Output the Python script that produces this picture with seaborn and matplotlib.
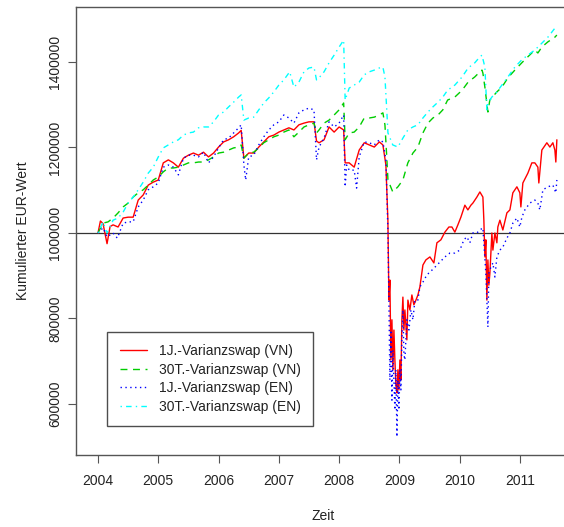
import pandas as pd
import seaborn as sns
import matplotlib.pyplot as plt

# 1J.-Varianzswap (VN)
vn_1j_years = [
    2004.000, 2004.040, 2004.083, 2004.150, 2004.200, 2004.250, 2004.333, 2004.417, 2004.500, 2004.583,
    2004.667, 2004.750, 2004.833, 2004.917, 2005.000, 2005.083, 2005.167, 2005.250, 2005.333, 2005.417,
    2005.500, 2005.583, 2005.667, 2005.750, 2005.833, 2005.917, 2006.000, 2006.083, 2006.167, 2006.250,
    2006.333, 2006.375, 2006.420, 2006.500, 2006.583, 2006.667, 2006.750, 2006.833, 2006.917, 2007.000,
    2007.083, 2007.167, 2007.250, 2007.333, 2007.417, 2007.500, 2007.583, 2007.625, 2007.667, 2007.750,
    2007.833, 2007.917, 2008.000, 2008.075, 2008.100, 2008.167, 2008.250, 2008.333, 2008.417, 2008.500,
    2008.583, 2008.667, 2008.726, 2008.776, 2008.809, 2008.826, 2008.842, 2008.859, 2008.876, 2008.892,
    2008.909, 2008.925, 2008.942, 2008.959, 2008.975, 2008.992, 2009.008, 2009.025, 2009.041, 2009.058,
    2009.075, 2009.091, 2009.124, 2009.141, 2009.174, 2009.207, 2009.240, 2009.274, 2009.307, 2009.340,
    2009.390, 2009.439, 2009.506, 2009.572, 2009.622, 2009.688, 2009.755, 2009.821, 2009.871, 2009.920,
    2009.970, 2010.020, 2010.086, 2010.136, 2010.186, 2010.219, 2010.285, 2010.335, 2010.385, 2010.401,
    2010.418, 2010.434, 2010.451, 2010.468, 2010.484, 2010.501, 2010.534, 2010.551, 2010.584, 2010.617,
    2010.633, 2010.667, 2010.716, 2010.783, 2010.833, 2010.882, 2010.949, 2010.998, 2011.015, 2011.048,
    2011.131, 2011.197, 2011.247, 2011.297, 2011.313, 2011.363, 2011.446, 2011.496, 2011.546, 2011.579,
    2011.595, 2011.612,
]
vn_1j = [
    1000000, 1028000, 1022000, 975000, 1015000, 1019000, 1014000, 1035000, 1037000, 1037000,
    1077000, 1089000, 1112000, 1119000, 1124000, 1164000, 1171000, 1164000, 1154000, 1175000,
    1182000, 1187000, 1182000, 1189000, 1178000, 1187000, 1201000, 1213000, 1218000, 1225000,
    1234000, 1240000, 1175000, 1187000, 1187000, 1201000, 1213000, 1225000, 1229000, 1236000,
    1241000, 1246000, 1241000, 1253000, 1257000, 1260000, 1260000, 1215000, 1211000, 1218000,
    1248000, 1236000, 1248000, 1241000, 1164000, 1164000, 1154000, 1194000, 1211000, 1206000,
    1201000, 1213000, 1206000, 1159000, 1030000, 843000, 890000, 703000, 797000, 680000,
    773000, 703000, 644000, 626000, 680000, 633000, 703000, 656000, 797000, 850000,
    773000, 820000, 750000, 843000, 820000, 855000, 832000, 843000, 855000, 874000,
    925000, 937000, 944000, 930000, 977000, 984000, 1002000, 1014000, 1014000, 1002000,
    1019000, 1037000, 1065000, 1054000, 1065000, 1070000, 1084000, 1096000, 1084000, 1030000,
    944000, 984000, 843000, 937000, 878000, 906000, 1000000, 960000, 1000000, 977000,
    1014000, 1030000, 1007000, 1047000, 1054000, 1094000, 1108000, 1094000, 1061000, 1117000,
    1140000, 1164000, 1164000, 1154000, 1117000, 1194000, 1211000, 1201000, 1211000, 1194000,
    1166000, 1218000,
]

# 30T.-Varianzswap (VN)
vn_30t_years = [
    2004.000, 2004.083, 2004.167, 2004.250, 2004.333, 2004.417, 2004.500, 2004.583, 2004.667, 2004.750,
    2004.833, 2004.917, 2005.000, 2005.083, 2005.167, 2005.250, 2005.333, 2005.417, 2005.500, 2005.583,
    2005.667, 2005.750, 2005.833, 2005.917, 2006.000, 2006.083, 2006.167, 2006.250, 2006.333, 2006.375,
    2006.420, 2006.500, 2006.583, 2006.667, 2006.750, 2006.833, 2006.917, 2007.000, 2007.083, 2007.167,
    2007.250, 2007.333, 2007.417, 2007.500, 2007.583, 2007.625, 2007.667, 2007.750, 2007.833, 2007.917,
    2008.000, 2008.075, 2008.100, 2008.167, 2008.250, 2008.333, 2008.417, 2008.500, 2008.583, 2008.667,
    2008.726, 2008.760, 2008.790, 2008.810, 2008.890, 2008.975, 2009.058, 2009.140, 2009.224, 2009.307,
    2009.390, 2009.473, 2009.556, 2009.640, 2009.720, 2009.800, 2009.920, 2010.040, 2010.140, 2010.250,
    2010.335, 2010.370, 2010.385, 2010.418, 2010.468, 2010.500, 2010.617, 2010.700, 2010.800, 2010.915,
    2011.030, 2011.130, 2011.247, 2011.297, 2011.363, 2011.463, 2011.579, 2011.612,
]
vn_30t = [
    1000000, 1023000, 1026000, 1035000, 1047000, 1061000, 1070000, 1084000, 1094000, 1101000,
    1112000, 1124000, 1131000, 1143000, 1152000, 1152000, 1154000, 1159000, 1164000, 1164000,
    1166000, 1166000, 1171000, 1178000, 1187000, 1189000, 1194000, 1199000, 1201000, 1206000,
    1175000, 1187000, 1189000, 1199000, 1211000, 1218000, 1225000, 1229000, 1236000, 1241000,
    1225000, 1236000, 1248000, 1253000, 1257000, 1234000, 1241000, 1257000, 1264000, 1276000,
    1288000, 1304000, 1218000, 1234000, 1236000, 1248000, 1269000, 1269000, 1271000, 1276000,
    1281000, 1253000, 1178000, 1124000, 1096000, 1108000, 1124000, 1164000, 1187000, 1201000,
    1234000, 1257000, 1269000, 1276000, 1288000, 1311000, 1318000, 1334000, 1353000, 1365000,
    1377000, 1381000, 1374000, 1341000, 1283000, 1311000, 1330000, 1341000, 1363000, 1381000,
    1398000, 1412000, 1428000, 1421000, 1435000, 1447000, 1458000, 1463000,
]

# 1J.-Varianzswap (EN)
en_1j_years = [
    2004.000, 2004.083, 2004.150, 2004.250, 2004.320, 2004.417, 2004.500, 2004.583, 2004.667, 2004.750,
    2004.833, 2004.917, 2005.000, 2005.083, 2005.167, 2005.250, 2005.333, 2005.417, 2005.500, 2005.583,
    2005.667, 2005.750, 2005.833, 2005.917, 2006.000, 2006.083, 2006.167, 2006.250, 2006.333, 2006.375,
    2006.420, 2006.450, 2006.500, 2006.583, 2006.667, 2006.750, 2006.833, 2006.917, 2007.000, 2007.083,
    2007.167, 2007.250, 2007.333, 2007.417, 2007.500, 2007.583, 2007.625, 2007.667, 2007.750, 2007.833,
    2007.917, 2008.000, 2008.075, 2008.100, 2008.125, 2008.167, 2008.250, 2008.290, 2008.333, 2008.417,
    2008.500, 2008.583, 2008.667, 2008.726, 2008.776, 2008.809, 2008.826, 2008.842, 2008.859, 2008.876,
    2008.892, 2008.909, 2008.925, 2008.942, 2008.959, 2008.975, 2008.992, 2009.008, 2009.025, 2009.041,
    2009.058, 2009.075, 2009.091, 2009.124, 2009.158, 2009.191, 2009.224, 2009.257, 2009.307, 2009.340,
    2009.390, 2009.456, 2009.539, 2009.589, 2009.672, 2009.755, 2009.837, 2009.920, 2010.003, 2010.070,
    2010.119, 2010.169, 2010.219, 2010.285, 2010.335, 2010.385, 2010.401, 2010.434, 2010.451, 2010.468,
    2010.484, 2010.517, 2010.551, 2010.584, 2010.617, 2010.667, 2010.716, 2010.783, 2010.833, 2010.882,
    2010.949, 2010.998, 2011.032, 2011.081, 2011.164, 2011.247, 2011.297, 2011.330, 2011.380, 2011.463,
    2011.546, 2011.595, 2011.612,
]
en_1j = [
    1000000, 1012000, 991000, 1000000, 988000, 1023000, 1026000, 1026000, 1061000, 1077000,
    1101000, 1108000, 1117000, 1154000, 1159000, 1154000, 1136000, 1175000, 1182000, 1182000,
    1178000, 1189000, 1164000, 1178000, 1199000, 1218000, 1222000, 1234000, 1246000, 1253000,
    1159000, 1124000, 1178000, 1182000, 1206000, 1225000, 1241000, 1253000, 1260000, 1276000,
    1269000, 1257000, 1281000, 1288000, 1292000, 1288000, 1171000, 1201000, 1222000, 1260000,
    1248000, 1257000, 1276000, 1108000, 1159000, 1147000, 1147000, 1105000, 1178000, 1213000,
    1211000, 1206000, 1218000, 1213000, 1171000, 1007000, 843000, 656000, 773000, 609000,
    726000, 656000, 586000, 680000, 523000, 656000, 586000, 680000, 633000, 750000,
    820000, 715000, 703000, 797000, 773000, 820000, 797000, 843000, 843000, 874000,
    885000, 902000, 913000, 920000, 932000, 944000, 953000, 953000, 960000, 984000,
    991000, 977000, 1000000, 1000000, 1007000, 1012000, 977000, 906000, 843000, 780000,
    906000, 920000, 930000, 897000, 944000, 960000, 967000, 988000, 1000000, 1023000,
    1035000, 1014000, 1037000, 1054000, 1070000, 1077000, 1070000, 1054000, 1101000, 1108000,
    1112000, 1094000, 1124000,
]

# 30T.-Varianzswap (EN)
en_30t_years = [
    2004.000, 2004.083, 2004.150, 2004.250, 2004.333, 2004.417, 2004.500, 2004.583, 2004.667, 2004.750,
    2004.833, 2004.917, 2005.000, 2005.083, 2005.167, 2005.250, 2005.333, 2005.417, 2005.500, 2005.583,
    2005.667, 2005.750, 2005.833, 2005.917, 2006.000, 2006.083, 2006.167, 2006.250, 2006.333, 2006.375,
    2006.420, 2006.500, 2006.583, 2006.667, 2006.750, 2006.833, 2006.917, 2007.000, 2007.083, 2007.180,
    2007.250, 2007.333, 2007.417, 2007.500, 2007.583, 2007.625, 2007.667, 2007.750, 2007.833, 2007.917,
    2008.000, 2008.075, 2008.100, 2008.167, 2008.250, 2008.333, 2008.417, 2008.500, 2008.583, 2008.667,
    2008.726, 2008.760, 2008.790, 2008.810, 2008.890, 2008.975, 2009.058, 2009.140, 2009.224, 2009.307,
    2009.390, 2009.473, 2009.556, 2009.640, 2009.720, 2009.800, 2009.920, 2010.040, 2010.140, 2010.250,
    2010.335, 2010.370, 2010.418, 2010.451, 2010.468, 2010.534, 2010.617, 2010.700, 2010.800, 2010.915,
    2011.030, 2011.130, 2011.247, 2011.363, 2011.463, 2011.579, 2011.612,
]
en_30t = [
    1000000, 1026000, 1000000, 1030000, 1035000, 1049000, 1070000, 1084000, 1101000, 1119000,
    1140000, 1154000, 1178000, 1199000, 1206000, 1213000, 1218000, 1229000, 1234000, 1236000,
    1246000, 1248000, 1248000, 1260000, 1276000, 1283000, 1295000, 1306000, 1318000, 1323000,
    1264000, 1269000, 1271000, 1288000, 1304000, 1316000, 1330000, 1346000, 1358000, 1377000,
    1341000, 1353000, 1377000, 1386000, 1388000, 1358000, 1363000, 1377000, 1398000, 1416000,
    1435000, 1451000, 1311000, 1339000, 1346000, 1353000, 1370000, 1377000, 1381000, 1386000,
    1388000, 1365000, 1288000, 1234000, 1206000, 1201000, 1222000, 1241000, 1248000, 1253000,
    1269000, 1283000, 1295000, 1306000, 1318000, 1334000, 1346000, 1365000, 1386000, 1398000,
    1412000, 1416000, 1388000, 1288000, 1304000, 1318000, 1330000, 1346000, 1365000, 1388000,
    1405000, 1416000, 1428000, 1444000, 1458000, 1479000, 1475000,
]

labels = [
    "1J.-Varianzswap (VN)",
    "30T.-Varianzswap (VN)",
    "1J.-Varianzswap (EN)",
    "30T.-Varianzswap (EN)",
]
year_ticks = [2004, 2005, 2006, 2007, 2008, 2009, 2010, 2011]
value_ticks = [600000, 800000, 1000000, 1200000, 1400000]

series = [
    (vn_1j_years, vn_1j),
    (vn_30t_years, vn_30t),
    (en_1j_years, en_1j),
    (en_30t_years, en_30t),
]
df = pd.concat(
    [pd.DataFrame({"Jahr": x, "Wert": y, "Serie": lab}) for (x, y), lab in zip(series, labels)],
    ignore_index=True,
)

palette = dict(zip(labels, ["#FF0000", "#00CD00", "#0000FF", "#00FFFF"]))
dashes = dict(zip(labels, ["", (5, 4), (1, 2.5), (1, 3, 4, 3)]))

sns.set_theme(style="white")
plt.rcParams["font.family"] = ["Liberation Sans", "DejaVu Sans"]

fig = plt.figure(figsize=(5.64, 5.27), dpi=100)
ax = fig.add_axes([76 / 564, 72 / 527, 494 / 564, 448 / 527])

sns.lineplot(
    data=df, x="Jahr", y="Wert", hue="Serie", style="Serie",
    hue_order=labels, style_order=labels, palette=palette, dashes=dashes,
    estimator=None, sort=False, legend=False, linewidth=1.0, ax=ax,
)
handles = list(ax.get_lines()[:4])
ax.axhline(1000000, color="#333333", linewidth=0.9, zorder=1)

ax.set_xlim(2003.635, 2011.83)
ax.set_ylim(480700, 1528600)
ax.set_xticks(year_ticks)
ax.set_xticklabels([str(y) for y in year_ticks])
ax.set_yticks(value_ticks)
ax.set_yticklabels([str(v) for v in value_ticks], rotation=90, va="center")
ax.tick_params(axis="both", direction="out", length=6, width=0.8, color="#555555",
               labelsize=10, labelcolor="#222222", bottom=True, left=True)
ax.tick_params(axis="x", pad=8)
ax.tick_params(axis="y", pad=4)
for sp in ax.spines.values():
    sp.set_color("#555555")
    sp.set_linewidth(1.0)

ax.set_xlabel("Zeit", fontsize=10, color="#222222", labelpad=15)
ax.set_ylabel("Kumulierter EUR-Wert", fontsize=10, color="#222222", labelpad=13)

leg = ax.legend(
    handles, labels, loc="lower left", bbox_to_anchor=(31 / 494, 29 / 448),
    borderaxespad=0, fontsize=10, frameon=True, fancybox=False,
    handlelength=2.0, handletextpad=0.85, labelspacing=0.32, borderpad=0.9,
)
leg.get_frame().set_edgecolor("#222222")
leg.get_frame().set_linewidth(1.0)
for t in leg.get_texts():
    t.set_color("#222222")

fig.savefig("out.png", dpi=100)
